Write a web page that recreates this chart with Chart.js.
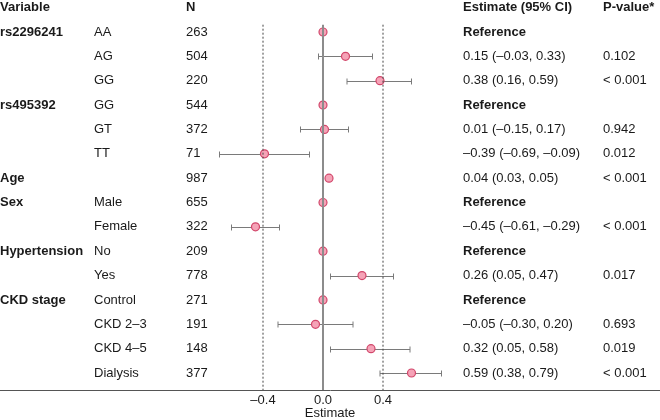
<!DOCTYPE html>
<html>
<head>
<meta charset="utf-8">
<script src="https://cdn.jsdelivr.net/npm/chart.js@4"></script>
<style>
  html, body { margin: 0; padding: 0; background: #fff; }
  #wrap { width: 660px; height: 420px; }
</style>
</head>
<body>
<div id="wrap"><canvas id="out"></canvas></div>
<script>
const variables = ["rs2296241", "", "", "rs495392", "", "", "Age", "Sex", "", "Hypertension", "", "CKD stage", "", "", ""];
const levels = ["AA", "AG", "GG", "GG", "GT", "TT", "", "Male", "Female", "No", "Yes", "Control", "CKD 2–3", "CKD 4–5", "Dialysis"];
const counts = [263, 504, 220, 544, 372, 71, 987, 655, 322, 209, 778, 271, 191, 148, 377];
const estimates = [0, 0.15, 0.38, 0, 0.01, -0.39, 0.04, 0, -0.45, 0, 0.26, 0, -0.05, 0.32, 0.59];
const lower = [null, -0.03, 0.16, null, -0.15, -0.69, 0.03, null, -0.61, null, 0.05, null, -0.30, 0.05, 0.38];
const upper = [null, 0.33, 0.59, null, 0.17, -0.09, 0.05, null, -0.29, null, 0.47, null, 0.20, 0.58, 0.79];
const ciLabels = ["Reference", "0.15 (–0.03, 0.33)", "0.38 (0.16, 0.59)", "Reference", "0.01 (–0.15, 0.17)",
    "–0.39 (–0.69, –0.09)", "0.04 (0.03, 0.05)", "Reference", "–0.45 (–0.61, –0.29)", "Reference",
    "0.26 (0.05, 0.47)", "Reference", "–0.05 (–0.30, 0.20)", "0.32 (0.05, 0.58)", "0.59 (0.38, 0.79)"];
const pValues = ["", "0.102", "< 0.001", "", "0.942", "0.012", "< 0.001", "", "< 0.001", "", "0.017", "", "0.693", "0.019", "< 0.001"];
const headers = ["Variable", "", "N", "Estimate (95% CI)", "P-value*"];
const xTicks = [-0.4, 0, 0.4];
const refLines = [-0.4, 0.4];

const FONT = "'Liberation Sans', Arial, sans-serif";
const SIZE = 13;
const lastRow = counts.length - 1;
const lineTop = -0.3;
const lineBottom = lastRow + 0.7;

// text columns, x in pixels of the canvas
const columns = [0, 94, 186, 463, 603];

const tablePlugin = {
    id: "table",
    afterDraw(chart) {
        const ctx = chart.ctx;
        const y = chart.scales.y;
        ctx.save();
        ctx.fillStyle = "#1a1a1a";
        ctx.textBaseline = "middle";
        ctx.textAlign = "left";
        ctx.font = "bold " + SIZE + "px " + FONT;
        headers.forEach((h, c) => ctx.fillText(h, columns[c], y.getPixelForValue(-1)));
        for (let i = 0; i < counts.length; i++) {
            const py = y.getPixelForValue(i);
            ctx.font = "bold " + SIZE + "px " + FONT;
            ctx.fillText(variables[i], columns[0], py);
            ctx.font = SIZE + "px " + FONT;
            ctx.fillText(levels[i], columns[1], py);
            ctx.fillText(String(counts[i]), columns[2], py);
            ctx.font = (ciLabels[i] === "Reference" ? "bold " : "") + SIZE + "px " + FONT;
            ctx.fillText(ciLabels[i], columns[3], py);
            ctx.font = SIZE + "px " + FONT;
            ctx.fillText(pValues[i], columns[4], py);
        }
        ctx.restore();
    }
};

const errorBarPlugin = {
    id: "errorBars",
    beforeDatasetDraw(chart, args) {
        if (args.index !== chart.data.datasets.length - 1) return;
        const ctx = chart.ctx;
        const x = chart.scales.x;
        const y = chart.scales.y;
        ctx.save();
        ctx.strokeStyle = "#7a7a7a";
        ctx.lineWidth = 1;
        for (let i = 0; i < counts.length; i++) {
            if (lower[i] === null) continue;
            const py = Math.round(y.getPixelForValue(i)) + 0.5;
            const x1 = x.getPixelForValue(lower[i]);
            const x2 = x.getPixelForValue(upper[i]);
            ctx.beginPath();
            ctx.moveTo(x1, py);
            ctx.lineTo(x2, py);
            ctx.moveTo(x1, py - 3);
            ctx.lineTo(x1, py + 3);
            ctx.moveTo(x2, py - 3);
            ctx.lineTo(x2, py + 3);
            ctx.stroke();
        }
        ctx.restore();
    }
};

const datasets = refLines.map(v => ({
    type: "line",
    data: [{ x: v, y: lineTop }, { x: v, y: lineBottom }],
    borderColor: "#444",
    borderWidth: 1,
    borderDash: [2, 2],
    pointRadius: 0
}));
datasets.push({
    type: "line",
    data: [{ x: 0, y: lineTop }, { x: 0, y: lineBottom }],
    borderColor: "#8c8c8c",
    borderWidth: 2,
    pointRadius: 0
});
datasets.push({
    type: "scatter",
    data: estimates.map((e, i) => ({ x: e, y: i })),
    backgroundColor: "#f5a3b7",
    borderColor: "#d2476b",
    borderWidth: 1.2,
    pointRadius: 4,
    pointHoverRadius: 4
});

const chartConfig = {
    type: "scatter",
    data: { datasets: datasets },
    plugins: [errorBarPlugin, tablePlugin],
    options: {
        responsive: true,
        maintainAspectRatio: false,
        animation: false,
        layout: { padding: 0, autoPadding: false },
        plugins: { legend: { display: false }, tooltip: { enabled: false } },
        scales: {
            x: {
                type: "linear",
                min: -323 / 150,
                max: 337 / 150,
                afterBuildTicks: axis => { axis.ticks = xTicks.map(v => ({ value: v })); },
                afterFit: axis => { axis.height = 30; },
                grid: { display: false, drawTicks: false },
                border: { display: true, color: "#555", width: 1 },
                ticks: {
                    padding: 4,
                    color: "#1a1a1a",
                    font: { family: FONT, size: SIZE, lineHeight: 1 },
                    callback: v => (v < 0 ? "–" : "") + Math.abs(v).toFixed(1)
                },
                title: {
                    display: true,
                    text: "Estimate",
                    color: "#1a1a1a",
                    font: { family: FONT, size: SIZE, lineHeight: 1 },
                    padding: { top: 2, bottom: 0 }
                }
            },
            y: {
                type: "linear",
                reverse: true,
                display: false,
                min: -32 / 24.36,
                max: lastRow + 17 / 24.36
            }
        }
    }
};

window.chart = new Chart(document.getElementById("out").getContext("2d"), chartConfig);
</script>
</body>
</html>
